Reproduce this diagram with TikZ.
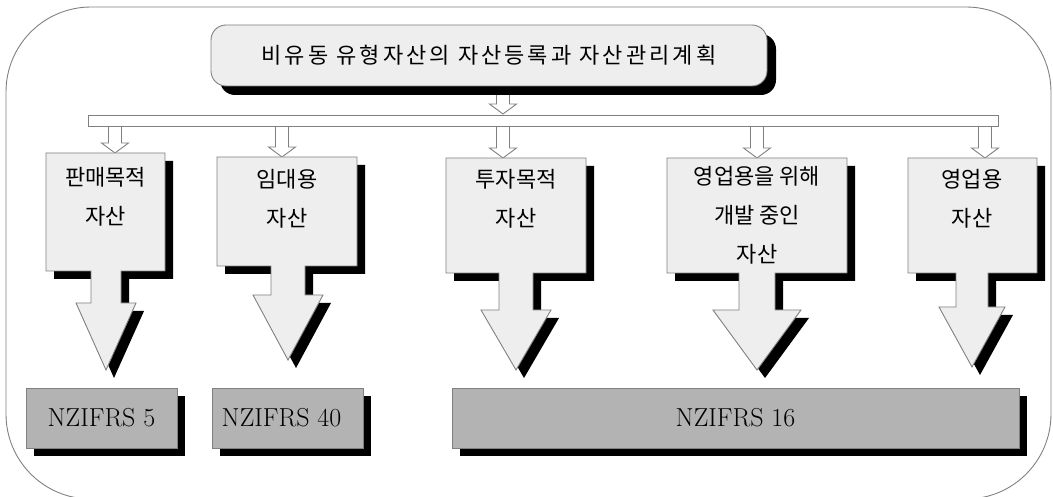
\documentclass[tikz,border=0pt]{standalone}
\usepackage{fontspec}
\newfontfamily\kr{Noto Sans CJK KR}
\newfontfamily\krwide[LetterSpace=14]{Noto Sans CJK KR}
\usetikzlibrary{shadows,calc}
\definecolor{boxfill}{HTML}{EEEEEE}
\definecolor{edge}{HTML}{808080}
\definecolor{stdfill}{HTML}{B3B3B3}
\tikzset{
  frameline/.style={draw=edge, line width=0.9pt},
  shapeedge/.style={draw=edge, line width=0.9pt, fill=boxfill},
  thinarrow/.style={draw=edge, line width=0.9pt, fill=white},
  krtext/.style={font=\kr\fontsize{22}{39}\selectfont, align=center, inner sep=0pt},
  stdbox/.style={draw=edge, line width=0.9pt, fill=stdfill, minimum height=60pt, inner sep=0pt,
    font=\fontsize{26}{30}\selectfont,
    drop shadow={shadow xshift=8pt, shadow yshift=-8pt, fill=black, opacity=1}},
  titlebox/.style={draw=edge, line width=0.9pt, fill=boxfill, rounded corners=15pt, inner sep=0pt,
    font=\krwide\fontsize{22}{28}\selectfont,
    drop shadow={shadow xshift=9pt, shadow yshift=-9pt, fill=black, opacity=1}},
  barbox/.style={draw=edge, line width=0.9pt, fill=white, inner sep=0pt},
}
% column: box (l,t,r,b) merged with a fat arrow (cx, shaft half, head half, head top, tip)
\newcommand{\blockcol}[9]{%
  \fill[black] (#1+8,#2+8) -- (#3+8,#2+8) -- (#3+8,#4+8) -- (#5+#6+8,#4+8) -- (#5+#6+8,#8+8)
     -- (#5+#7+8,#8+8) -- (#5+8,#9+8) -- (#5-#7+8,#8+8) -- (#5-#6+8,#8+8) -- (#5-#6+8,#4+8)
     -- (#1+8,#4+8) -- cycle;
  \path[shapeedge] (#1,#2) -- (#3,#2) -- (#3,#4) -- (#5+#6,#4) -- (#5+#6,#8) -- (#5+#7,#8)
     -- (#5,#9) -- (#5-#7,#8) -- (#5-#6,#8) -- (#5-#6,#4) -- (#1,#4) -- cycle;
}
% small hollow arrow: centre x, top y, tip y
\newcommand{\smallarr}[3]{%
  \path[thinarrow] (#1-6.5,#2) -- (#1-6.5,#3-10) -- (#1-13.5,#3-10) -- (#1,#3)
     -- (#1+13.5,#3-10) -- (#1+6.5,#3-10) -- (#1+6.5,#2);
}
\begin{document}
\begin{tikzpicture}[x=1pt,y=-1pt]
\useasboundingbox (0,0) rectangle (1053,497);
% outer frame
\draw[frameline, rounded corners=85pt] (6,7) rectangle (1051,499);
% arrow from title to bar
\smallarr{503}{90}{114}
% title
\node[titlebox, minimum width=556pt, minimum height=61pt] (title) at (489,55.5)
  {비유동 유형자산의 자산등록과 자산관리계획};
% arrows from bar to columns
\smallarr{115}{126}{153}
\smallarr{282}{126}{157}
\smallarr{503}{126}{158}
\smallarr{757}{126}{158}
\smallarr{985}{126}{158}
% distribution bar
\node[barbox, minimum width=910pt, minimum height=11pt] (bar) at (543,120.5) {};
% columns
\blockcol{46}{153}{165}{271}{106}{15}{30}{303}{370}
\blockcol{217}{157}{357}{266}{288}{17}{35}{295}{360}
\blockcol{446}{158}{586}{273}{516}{17}{35}{310}{370}
\blockcol{667}{158}{847}{273}{757}{18}{44}{310}{370}
\blockcol{908}{158}{1037}{273}{972}{16}{33}{307}{367}
\node[krtext] (c1) at (105.5,197) {판매목적\\자산};
\node[krtext] (c2) at (287,199) {임대용\\자산};
\node[krtext] (c3) at (516,199) {투자목적\\자산};
\node[krtext] (c4) at (757,215) {영업용을 위해\\개발 중인\\자산};
\node[krtext] (c5) at (972,199) {영업용\\자산};
% standards
\node[stdbox, minimum width=151pt] (nz5) at (101.5,418) {NZIFRS 5};
\node[stdbox, minimum width=151pt] (nz40) at (287.5,418) {NZIFRS 40\hspace*{12pt}};
\node[stdbox, minimum width=567pt] (nz16) at (735.5,418) {NZIFRS 16};
\end{tikzpicture}
\end{document}
